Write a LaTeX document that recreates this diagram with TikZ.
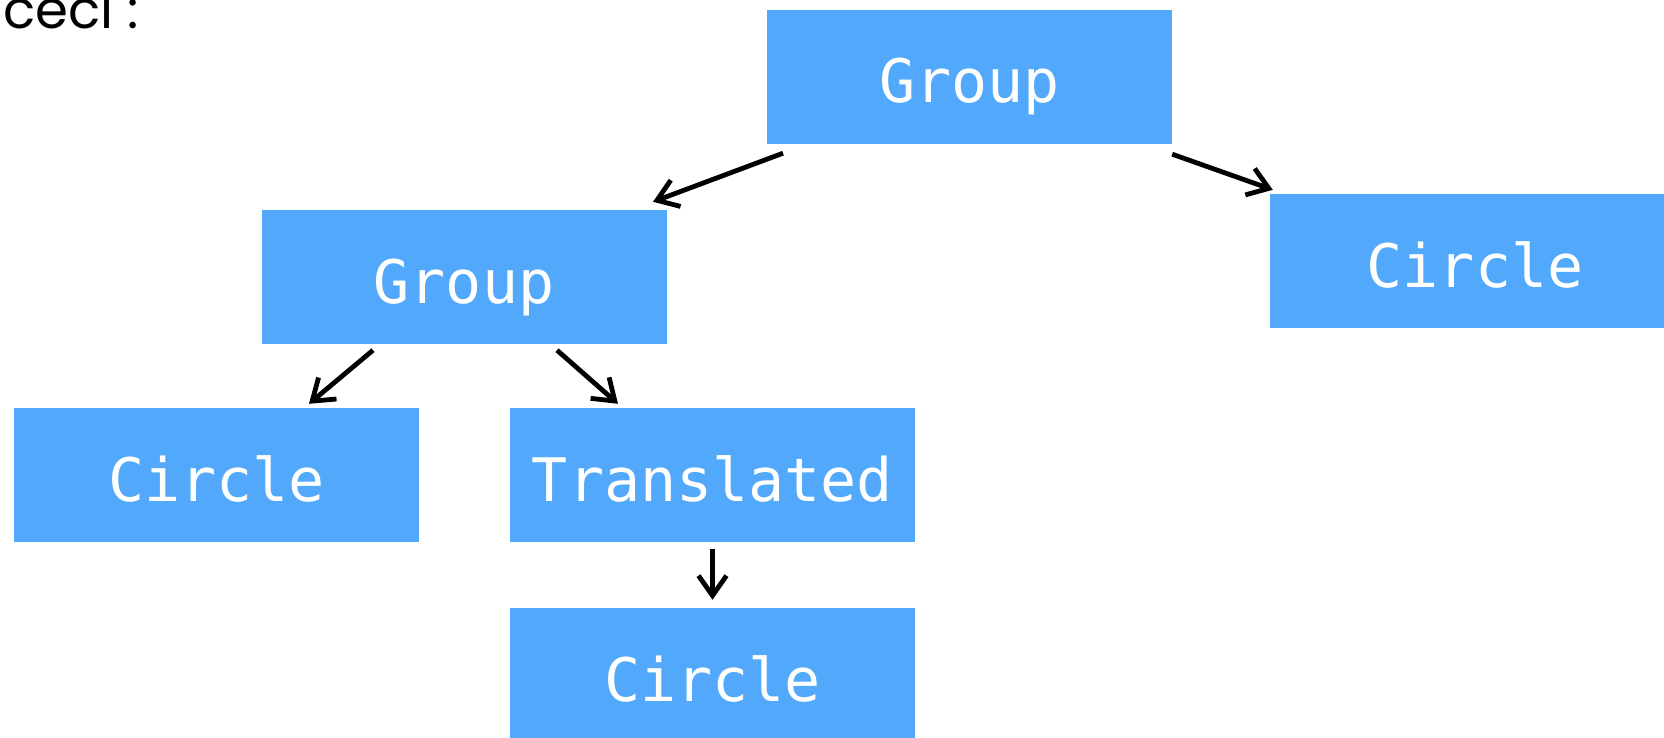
\documentclass[tikz,border=0pt]{standalone}
\usepackage{fontspec}
\setmainfont{Poppins}
\newfontfamily\codefont{DejaVu Sans Mono}
\usetikzlibrary{arrows.meta,calc}
\definecolor{boxblue}{RGB}{82,168,250}
\tikzset{
  x=1pt, y=-1pt,
  treebox/.style={fill=boxblue, text=white, inner sep=0pt,
    minimum width=405pt, minimum height=134pt,
    text height=52pt, text depth=0pt,
    font=\codefont\fontsize{60}{60}\selectfont},
  link/.style={line width=4.8pt,
    -{Straight Barb[length=20pt,width=28pt]}}
}
\begin{document}
\begin{tikzpicture}
\clip (0,0) rectangle (1664,738);
\fill[white] (0,0) rectangle (1664,738);

\node[anchor=base west, inner sep=0pt, font=\fontsize{53}{53}\selectfont]
  (title) at (3,29) {ceci :};

\node[treebox] (g1) at (969.5,77) {Group};
\node[treebox, minimum width=410pt] (cr) at (1475,261) {Circle};
\node[treebox] (g2) at (464,277) {Group};
\node[treebox] (cl) at (216.5,475) {Circle};
\node[treebox] (tr) at (712.5,475) {Translated};
\node[treebox] (cb) at (712.5,675) {Circle};

% tree edges
\draw[link] ($(g1.south)+(-186.5,9)$) -- ($(g2.north)+(189,-8)$);
\draw[link] ($(g1.south east)+(0,10)$) -- ($(cr.north west)+(3,-4)$);
\draw[link] ($(g2.south)+(-91,6)$) -- ($(cl.north)+(92.5,-4)$);
\draw[link] ($(g2.south)+(93,6)$) -- ($(tr.north)+(-94.5,-4)$);
\draw[link] ($(tr.south)+(0,7)$) -- ($(cb.north)+(0,-8)$);
\end{tikzpicture}
\end{document}
